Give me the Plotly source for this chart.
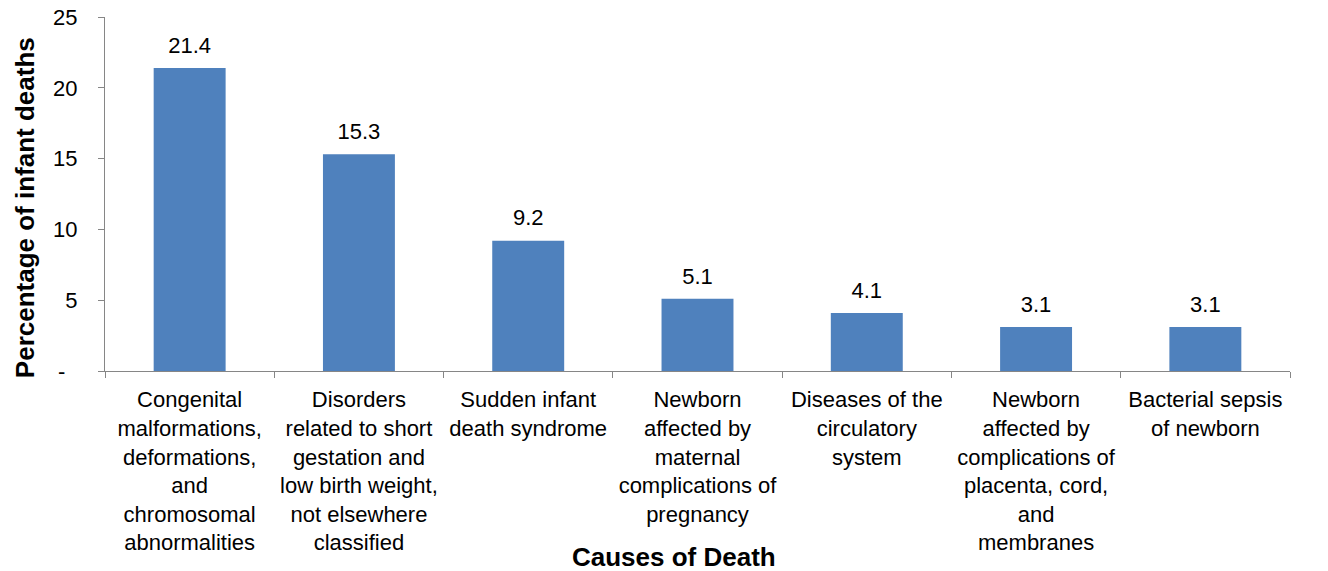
import plotly.graph_objects as go

causes = [
    "Congenital<br>malformations,<br>deformations,<br>and<br>chromosomal<br>abnormalities",
    "Disorders<br>related to short<br>gestation and<br>low birth weight,<br>not elsewhere<br>classified",
    "Sudden infant<br>death syndrome",
    "Newborn<br>affected by<br>maternal<br>complications of<br>pregnancy",
    "Diseases of the<br>circulatory<br>system",
    "Newborn<br>affected by<br>complications of<br>placenta, cord,<br>and<br>membranes",
    "Bacterial sepsis<br>of newborn",
]
percentages = [21.4, 15.3, 9.2, 5.1, 4.1, 3.1, 3.1]
y_ticks = [0, 5, 10, 15, 20, 25]
y_tick_labels = ["-\u00a0\u00a0", "5", "10", "15", "20", "25"]

font_family = "Liberation Sans, Arial, sans-serif"

bars = go.Bar(
    x=causes,
    y=percentages,
    marker=dict(color="#4F81BD", line=dict(width=0)),
    hoverinfo="x+y",
)

# value labels above each bar (invisible markers give the extra gap)
labels = go.Scatter(
    x=causes,
    y=percentages,
    mode="markers+text",
    text=[f"{v:.1f}" for v in percentages],
    textposition="top center",
    textfont=dict(size=22, color="black", family=font_family),
    marker=dict(size=14, opacity=0),
    hoverinfo="skip",
    cliponaxis=False,
)

fig = go.Figure(data=[bars, labels])

# the page body adds 8px, so size and margins are trimmed to match
fig.update_layout(
    width=1320,
    height=563,
    margin=dict(l=97, r=38, t=9, b=200),
    paper_bgcolor="white",
    plot_bgcolor="white",
    bargap=0.575,
    showlegend=False,
    font=dict(family=font_family, size=22, color="black"),
    annotations=[
        dict(
            text="<b>Causes of Death</b>",
            xref="paper", yref="paper",
            x=0.48, y=-0.525,
            xanchor="center", yanchor="middle",
            showarrow=False,
            font=dict(size=26),
        ),
        dict(
            text="<b>Percentage of infant deaths</b>",
            xref="paper", yref="paper",
            x=-0.0675, y=0.46,
            xanchor="center", yanchor="middle",
            textangle=-90,
            showarrow=False,
            font=dict(size=26),
        ),
    ],
)

fig.update_xaxes(
    showline=True,
    linecolor="#868686",
    linewidth=1,
    ticks="outside",
    tickson="boundaries",
    ticklen=6,
    tickcolor="#868686",
    tickfont=dict(size=22),
    ticklabelstandoff=9,
    automargin=False,
)

fig.update_yaxes(
    range=[0, 25],
    tickvals=y_ticks,
    ticktext=y_tick_labels,
    showline=True,
    linecolor="#868686",
    linewidth=1,
    ticks="outside",
    ticklen=6,
    tickcolor="#868686",
    showgrid=False,
    zeroline=False,
    tickfont=dict(size=22),
    ticklabelstandoff=16,
    ticklabeloverflow="allow",
    automargin=False,
)

fig.write_html("out.html")
